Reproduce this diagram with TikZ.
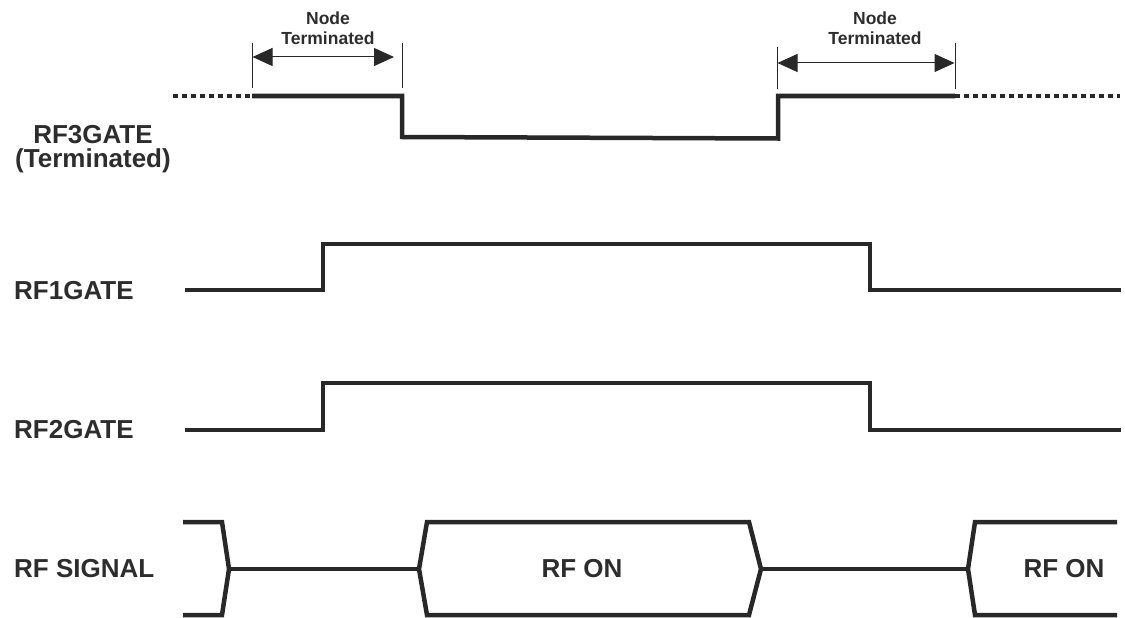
\documentclass[tikz,border=0pt]{standalone}
\usepackage{fontspec}
\setmainfont{Liberation Sans}
\usetikzlibrary{arrows.meta}
\definecolor{ink}{RGB}{40,40,40}
\definecolor{txt}{RGB}{45,45,45}
\begin{document}
\begin{tikzpicture}[x=1pt,y=-1pt,
  wave/.style={line width=4.5pt, draw=ink, line join=miter},
  dotwave/.style={line width=4.5pt, draw=ink, dash pattern=on 5pt off 4pt},
  marker/.style={line width=1pt, draw=ink},
  dimarrow/.style={line width=1pt, draw=ink, {Triangle[length=20pt,width=18pt]}-{Triangle[length=20pt,width=18pt]}},
  lbl/.style={inner sep=0pt, text=txt, font=\fontsize{26}{24}\selectfont\bfseries},
  smalllbl/.style={inner sep=0pt, text=txt, align=center, font=\fontsize{17.5}{20}\selectfont\bfseries}
]
\useasboundingbox (0,0) rectangle (1125,618);

% marker coordinates
\coordinate (m1t) at (252,43);  \coordinate (m1b) at (252,88);
\coordinate (m2t) at (402,43);  \coordinate (m2b) at (402,88);
\coordinate (m3t) at (777,47);  \coordinate (m3b) at (777,89);
\coordinate (m4t) at (955,43);  \coordinate (m4b) at (955,89);
\coordinate (a1l) at (252.5,57); \coordinate (a1r) at (394,57);
\coordinate (a2l) at (777.5,63); \coordinate (a2r) at (954.5,63);

\draw[marker] (m1t) -- (m1b);
\draw[marker] (m2t) -- (m2b);
\draw[marker] (m3t) -- (m3b);
\draw[marker] (m4t) -- (m4b);
\draw[dimarrow] (a1l) -- (a1r);
\draw[dimarrow] (a2l) -- (a2r);

\node[smalllbl] (nt1) at (328,28) {Node\\Terminated};
\node[smalllbl] (nt2) at (875,28) {Node\\Terminated};

% RF3GATE
\draw[dotwave] (173,96) -- (252,96);
\draw[wave] (252,96) -- (402,96) -- (402,137) -- (778,138.5) -- (778,96) -- (955,96);
\draw[dotwave] (955,96) -- (1120,96);

% RF1GATE
\draw[wave] (185,290) -- (323,290) -- (323,244) -- (870,244) -- (870,290) -- (1121,290);
% RF2GATE
\draw[wave] (185,430) -- (323,430) -- (323,383) -- (870,383) -- (870,430) -- (1121,430);

% RF SIGNAL
\draw[wave] (183,522) -- (222,522) -- (229,569) -- (222,615) -- (183,615);
\draw[wave] (229,569) -- (419,569);
\draw[wave] (427,522) -- (749,522) -- (761,569) -- (749,615) -- (427,615) -- (419,569) -- cycle;
\draw[wave] (761,569) -- (968,569);
\draw[wave] (1117,522) -- (975,522) -- (968,569) -- (975,615) -- (1117,615);

% labels
\node[lbl, align=center] (rf3) at (93,149) {RF3GATE\\(Terminated)};
\node[lbl, anchor=west] (rf1) at (14,291) {RF1GATE};
\node[lbl, anchor=west] (rf2) at (14,430) {RF2GATE};
\node[lbl, anchor=west] (rfs) at (14,569) {RF SIGNAL};
\node[lbl] (on1) at (582,569) {RF ON};
\node[lbl] (on2) at (1064,569) {RF ON};
\end{tikzpicture}
\end{document}
